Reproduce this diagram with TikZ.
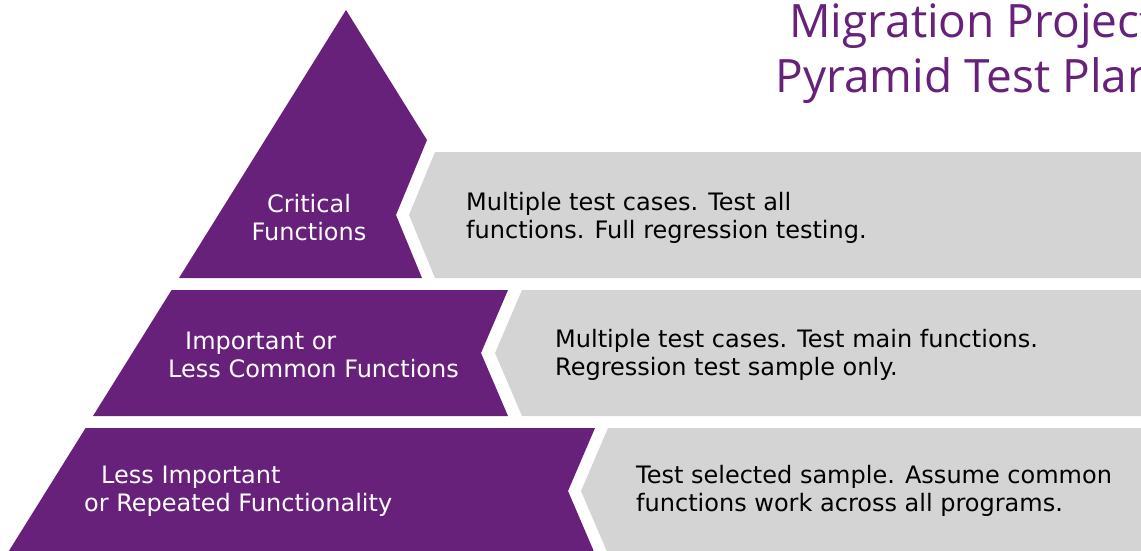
\documentclass[tikz,border=0pt]{standalone}
\usepackage{fontspec}
\setmainfont{DejaVu Sans}
\newfontfamily\headfont{Open Sans}
\definecolor{tierpurple}{HTML}{68217A}
\definecolor{tiergray}{HTML}{D4D4D4}

\begin{document}
\begin{tikzpicture}[x=1pt,y=1pt,
  tier/.style={fill=tierpurple},
  note/.style={fill=tiergray},
  lbl/.style={text=white,font=\fontsize{24}{28}\selectfont},
  txt/.style={text=black,font=\fontsize{24}{28}\selectfont,align=left,anchor=west}]
\tikzstyle{every node}+=[inner sep=0pt]
\useasboundingbox (0,0) rectangle (1141,-550);
\clip (0,0) rectangle (1141,-550);
\fill [tier] (346,-10) -- (427,-140) -- (396,-215) -- (422,-278) -- (179,-278) -- cycle;
\fill [note] (435,-152) -- (1150,-152) -- (1150,-278) -- (435,-278) -- (409,-215) -- cycle;
\fill [tier] (171.6,-290) -- (508,-290) -- (481,-353) -- (508,-416) -- (93,-416) -- cycle;
\fill [note] (522,-290) -- (1150,-290) -- (1150,-416) -- (522,-416) -- (495,-353) -- cycle;
\fill [tier] (85.6,-428) -- (595,-428) -- (568,-491) -- (595,-554) -- (7,-554) -- cycle;
\fill [note] (608,-428) -- (1150,-428) -- (1150,-554) -- (608,-554) -- (581,-491) -- cycle;
\draw (309,-218) node [lbl,align=center] (crit) {Critical\\Functions};
\draw (168,-355) node [lbl,align=left,anchor=west] (imp) {\hspace*{17pt}Important or\\Less Common Functions};
\draw (84,-491) node [lbl,align=left,anchor=west] (less) {\hspace*{17pt}Less Important\\or Repeated Functionality};
\draw (466,-218) node [txt] (crittxt) {Multiple test cases. Test all\\functions. Full regression testing.};
\draw (555,-355) node [txt] (imptxt) {Multiple test cases. Test main functions.\\Regression test sample only.};
\draw (636,-491) node [txt] (lesstxt) {Test selected sample. Assume common\\functions work across all programs.};
\draw (1156,-4) node [anchor=north east,align=right,text=tierpurple,font=\headfont\fontsize{46}{55}\selectfont] (head) {Migration Project\\Pyramid Test Plan};
\end{tikzpicture}
\end{document}
